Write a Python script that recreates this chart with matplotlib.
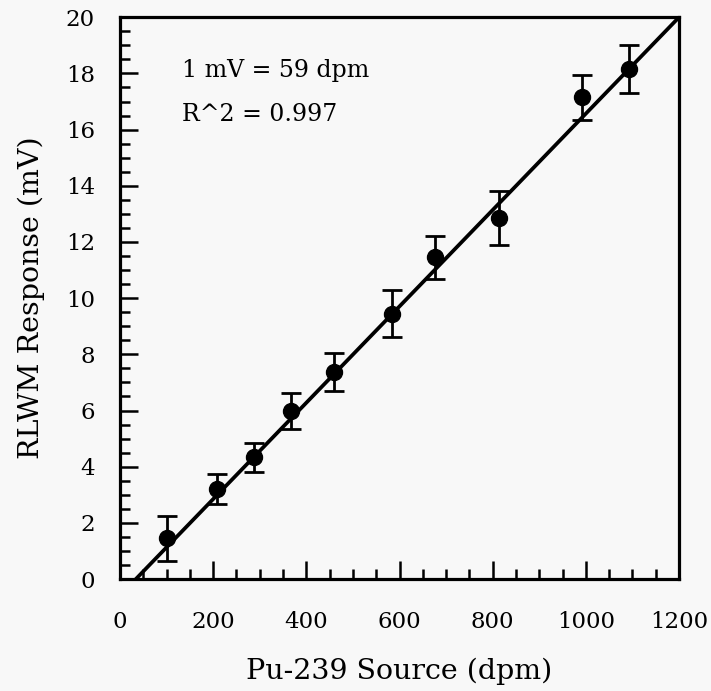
import numpy as np
import matplotlib
matplotlib.use("Agg")
import matplotlib.pyplot as plt
from matplotlib.ticker import MultipleLocator

# data
source_dpm = [100, 208, 288, 367, 460, 584, 677, 813, 992, 1092]
response_mv = [1.45, 3.2, 4.33, 5.98, 7.38, 9.45, 11.45, 12.85, 17.15, 18.15]
response_err = [0.8, 0.53, 0.52, 0.65, 0.68, 0.85, 0.78, 0.97, 0.8, 0.85]

fit_slope = 1 / 58.3
fit_intercept = -34 / 58.3

annotations = ["1 mV = 59 dpm", "R^2 = 0.997"]

plt.rcParams['font.family'] = ['DejaVu Serif']

fig = plt.figure(figsize=(7.11, 6.91), dpi=100, facecolor='#f8f8f8')
ax = fig.add_axes([0.1688, 0.162, 0.7862, 0.813])
ax.set_facecolor('#f8f8f8')

# fit line
xs = np.array([0, 1200])
ax.plot(xs, fit_slope * xs + fit_intercept, color='black', lw=2.7, zorder=2)

ax.errorbar(source_dpm, response_mv, yerr=response_err, fmt='o', color='black',
            markersize=11.5, elinewidth=2, capsize=7, capthick=2, zorder=3)

ax.set_xlim(0, 1200)
ax.set_ylim(0, 20)
ax.xaxis.set_major_locator(MultipleLocator(200))
ax.xaxis.set_minor_locator(MultipleLocator(50))
ax.yaxis.set_major_locator(MultipleLocator(2))
ax.yaxis.set_minor_locator(MultipleLocator(0.5))

ax.tick_params(axis='x', which='both', direction='in', top=False, pad=23, labelsize=16.5)
ax.tick_params(axis='y', which='both', direction='in', right=False, pad=18, labelsize=16.5)
ax.tick_params(which='major', length=13, width=1.8)
ax.tick_params(which='minor', length=7, width=1.8)
for s in ax.spines.values():
    s.set_linewidth(2.3)

ax.set_xlabel("Pu-239 Source (dpm)", fontsize=20.5, labelpad=18)
ax.set_ylabel("RLWM Response (mV)", fontsize=20.5, labelpad=15)

ax.text(0.111, 0.905, annotations[0], transform=ax.transAxes, fontsize=17, va='center')
ax.text(0.111, 0.827, annotations[1], transform=ax.transAxes, fontsize=17, va='center')

fig.savefig('out.png', dpi=100, facecolor=fig.get_facecolor())
